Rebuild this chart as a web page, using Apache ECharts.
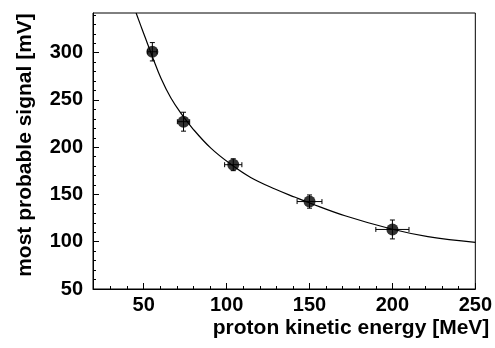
<!DOCTYPE html>
<html><head><meta charset="utf-8">
<script src="https://cdn.jsdelivr.net/npm/echarts@6/dist/echarts.min.js"></script>
<style>html,body{margin:0;padding:0;background:#fff}#c{width:495px;height:348px}</style>
</head><body><div id="c"></div>
<script>
// measured points
const energy = [55.2, 74, 104, 150, 200];
const signal = [301, 227, 181.5, 142.5, 113];
const energyErr = [2.8, 3.7, 5.2, 7.5, 10];
const signalErr = [9.7, 10, 6.3, 7, 10];
// fit curve
const fitEnergy = [45.4, 49.4, 52.4, 55.4, 60.4, 66.4, 72.4, 79.4, 90.5, 102.5, 114.5, 129.5, 141.4, 149.4, 171.4, 199.4, 221.4, 250];
const fitSignal = [342, 323, 309, 295, 273, 252, 236, 220, 199, 182, 168, 155.5, 147, 141.5, 127.5, 113.5, 105.5, 99.4];
// ticks
const xMajorTicks = [50, 100, 150, 200, 250];
const xMinorTicks = [30, 40, 60, 70, 80, 90, 110, 120, 130, 140, 160, 170, 180, 190, 210, 220, 230, 240];
const yMajorTicks = [50, 100, 150, 200, 250, 300];
const yMinorTicks = [60, 70, 80, 90, 110, 120, 130, 140, 160, 170, 180, 190, 210, 220, 230, 240, 260, 270, 280, 290, 310, 320, 330, 340];

const xTitle = 'proton kinetic energy [MeV]';
const yTitle = 'most probable signal [mV]';

const FONT = 'Liberation Sans, Arial, Helvetica, sans-serif';
const X_MIN = 19.4, X_MAX = 250, Y_MIN = 50, Y_MAX = 342;

const chart = echarts.init(document.getElementById('c'), null, {renderer: 'canvas'});
const lbl = {fontSize: 20, fontWeight: 'bold', color: '#000', fontFamily: FONT};

const pts = energy.map((e, i) => [e, signal[i], energyErr[i], signalErr[i]]);
const fit = fitEnergy.map((e, i) => [e, fitSignal[i]]);

chart.setOption({
  animation: false,
  backgroundColor: '#fff',
  grid: {left: 93, top: 13, right: 17, bottom: 59, show: true, borderColor: '#000', borderWidth: 1, backgroundColor: 'transparent'},
  xAxis: [{
    type: 'value', min: X_MIN, max: X_MAX, position: 'bottom',
    axisLine: {show: true, onZero: false, lineStyle: {color: '#000', width: 1}},
    axisTick: {show: true, inside: true, length: 6, customValues: xMajorTicks, lineStyle: {color: '#000'}},
    axisLabel: Object.assign({customValues: xMajorTicks, margin: 6}, lbl),
    splitLine: {show: false},
    name: xTitle, nameLocation: 'end', nameGap: 14,
    nameTextStyle: {fontSize: 21, fontWeight: 'bold', color: '#000', fontFamily: FONT, align: 'right', verticalAlign: 'top', padding: [29, 0, 0, 0]}
  }, {
    type: 'value', min: X_MIN, max: X_MAX, position: 'bottom',
    axisLine: {show: false},
    axisTick: {show: true, inside: true, length: 3, customValues: xMinorTicks, lineStyle: {color: '#000'}},
    axisLabel: {show: false},
    splitLine: {show: false}
  }],
  yAxis: [{
    type: 'value', min: Y_MIN, max: Y_MAX, position: 'left',
    axisLine: {show: true, onZero: false, lineStyle: {color: '#000', width: 1}},
    axisTick: {show: true, inside: true, length: 6, customValues: yMajorTicks, lineStyle: {color: '#000'}},
    axisLabel: Object.assign({customValues: yMajorTicks, margin: 10}, lbl),
    splitLine: {show: false},
    name: yTitle, nameLocation: 'middle', nameGap: 57, nameRotate: 90,
    nameTextStyle: {fontSize: 21, fontWeight: 'bold', color: '#000', fontFamily: FONT, padding: [0, 0, 0, 12]}
  }, {
    type: 'value', min: Y_MIN, max: Y_MAX, position: 'left',
    axisLine: {show: false},
    axisTick: {show: true, inside: true, length: 3, customValues: yMinorTicks, lineStyle: {color: '#000'}},
    axisLabel: {show: false},
    splitLine: {show: false}
  }],
  series: [{
    type: 'line', data: fit, smooth: 0.4, showSymbol: false, clip: true,
    lineStyle: {color: '#000', width: 1.2}, z: 2
  }, {
    type: 'custom', data: pts, encode: {x: 0, y: 1}, z: 3,
    renderItem: function (params, api) {
      const x = api.value(0), y = api.value(1), ex = api.value(2), ey = api.value(3);
      const c = api.coord([x, y]);
      const l = api.coord([x - ex, y]), r = api.coord([x + ex, y]);
      const t = api.coord([x, y + ey]), b = api.coord([x, y - ey]);
      const cap = 2.5;
      const st = {stroke: '#000', lineWidth: 1};
      return {type: 'group', children: [
        {type: 'line', shape: {x1: l[0], y1: c[1], x2: r[0], y2: c[1]}, style: st},
        {type: 'line', shape: {x1: l[0], y1: c[1] - cap, x2: l[0], y2: c[1] + cap}, style: st},
        {type: 'line', shape: {x1: r[0], y1: c[1] - cap, x2: r[0], y2: c[1] + cap}, style: st},
        {type: 'line', shape: {x1: c[0], y1: t[1], x2: c[0], y2: b[1]}, style: st},
        {type: 'line', shape: {x1: c[0] - cap, y1: t[1], x2: c[0] + cap, y2: t[1]}, style: st},
        {type: 'line', shape: {x1: c[0] - cap, y1: b[1], x2: c[0] + cap, y2: b[1]}, style: st}
      ]};
    }
  }, {
    type: 'scatter', data: pts.map(p => [p[0], p[1]]), symbol: 'circle', symbolSize: 12,
    itemStyle: {color: '#000'}, z: 4
  }]
});
</script></body></html>
